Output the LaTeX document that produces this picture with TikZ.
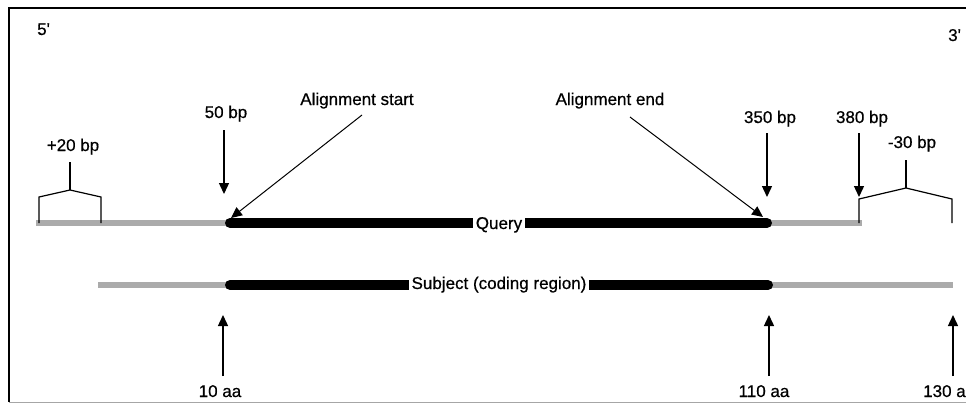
\documentclass[tikz,border=0pt]{standalone}
\usepackage{fontspec}
% plain family without TeX ligatures, so ' stays a straight prime
\newfontfamily\labelfont{Liberation Sans}[FakeBold=0.6]
\usetikzlibrary{arrows.meta}
\begin{document}
\begin{tikzpicture}[x=1pt,y=-1pt,
  lbl/.style={font=\labelfont\fontsize{17}{20}\selectfont, inner sep=0pt, anchor=base},
  ptr/.style={line width=1.4pt, -{Triangle[length=11pt,width=10pt]}},
  flank/.style={line width=6pt, color=black!33},
  core/.style={line width=10pt, line cap=round, color=black},
  brk/.style={line width=1.2pt},
  gap/.style={lbl, fill=white, inner xsep=3pt, inner ysep=2pt}
]
\useasboundingbox (0,0) rectangle (966,405);

% frame
\draw[line width=1.3pt] (966,8) -- (9,8) -- (9,402);
\draw[black!35, line width=1pt] (9,402) -- (966,402);

% strand ends
\node[lbl, anchor=base west] (five) at (37,35) {5'};
\node[lbl, anchor=base west] (three) at (948,41) {3'};

% query sequence
\coordinate (qL) at (36,223);
\coordinate (qS) at (230,223);
\coordinate (qE) at (767,223);
\coordinate (qR) at (862,223);
\draw[flank] (qL) -- (qS);
\draw[flank] (qE) -- (qR);
\draw[core] (qS) -- (qE);
\node[gap] (query) at (499,229) {Query};

% subject sequence
\coordinate (sL) at (98,285);
\coordinate (sS) at (230,285);
\coordinate (sE) at (768,285);
\coordinate (sR) at (953,285);
\draw[flank] (sL) -- (sS);
\draw[flank] (sE) -- (sR);
\draw[core] (sS) -- (sE);
\node[gap, inner xsep=3pt] (subject) at (499,289) {Subject (coding region)};

% left bracket
\node[lbl] (p20) at (73,151) {+20 bp};
\draw[brk] (70,162) coordinate (lb) -- (70,190) coordinate (lt);
\draw[brk] (39,223) -- (39,197) -- (lt) -- (101,197) -- (101,223);

% right bracket
\node[lbl] (m30) at (912,148) {-30 bp};
\draw[brk] (906,160) coordinate (rb) -- (906,188) coordinate (rt);
\draw[brk] (859,223) -- (859,199) -- (rt) -- (952,199) -- (952,223);

% position markers on the query
\node[lbl] (b50) at (226,118) {50 bp};
\draw[ptr] (224,130) coordinate (t50) -- (224,194) coordinate (h50);
\node[lbl] (b350) at (770,123) {350 bp};
\draw[ptr] (767,133) coordinate (t350) -- (767,197) coordinate (h350);
\node[lbl] (b380) at (862,123) {380 bp};
\draw[ptr] (859,133) coordinate (t380) -- (859,197) coordinate (h380);

% alignment ends
\node[lbl] (astart) at (357,105) {Alignment start};
\draw[ptr, line width=1pt] (362,115) coordinate (ta) -- (231,218) coordinate (ha);
\node[lbl] (aend) at (610,105) {Alignment end};
\draw[ptr, line width=1pt] (630,117) coordinate (te) -- (763,217) coordinate (he);

% position markers on the subject
\node[lbl] (a10) at (220,397) {10 aa};
\draw[ptr] (223,376) coordinate (t10) -- (223,315) coordinate (h10);
\node[lbl] (a110) at (764,397) {110 aa};
\draw[ptr] (769,376) coordinate (t110) -- (769,315) coordinate (h110);
\node[lbl, anchor=base west] (a130) at (923,397) {130 aa};
\draw[ptr] (953,376) coordinate (t130) -- (953,315) coordinate (h130);
\end{tikzpicture}
\end{document}
